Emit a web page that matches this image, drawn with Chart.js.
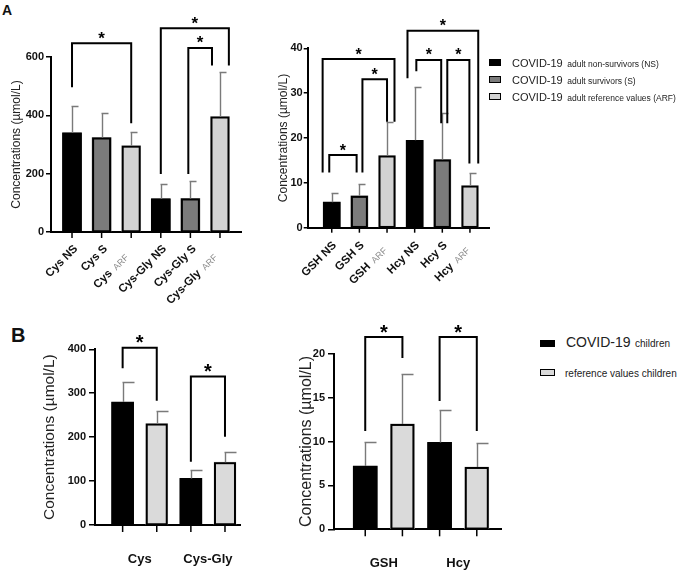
<!DOCTYPE html>
<html lang="en">
<head>
<meta charset="UTF-8">
<title>Thiols in COVID-19 adults and children</title>
<script src="https://cdn.jsdelivr.net/npm/chart.js@4"></script>
<style>
  body { margin: 0; background: #fff; font-family: "Liberation Sans", Arial, sans-serif; }
  #page { position: relative; width: 685px; height: 571px; overflow: hidden; }
  canvas { position: absolute; }
  .letter { position: absolute; font-weight: bold; color: #111; line-height: 1; }
  .sw { position: absolute; box-sizing: border-box; border: 1.5px solid #000; }
  .row { position: absolute; white-space: nowrap; color: #222; }
</style>
</head>
<body>
<div id="page">
  <div class="letter" style="left:2px; top:2.5px; font-size:14px;">A</div>
  <div class="letter" style="left:11px; top:325px; font-size:20px;">B</div>

  <canvas id="cys" width="250" height="320" style="left:0; top:0;"></canvas>
  <canvas id="gsh" width="230" height="320" style="left:262px; top:0;"></canvas>
  <canvas id="childCys" width="250" height="251" style="left:0; top:320px;"></canvas>
  <canvas id="childGsh" width="250" height="251" style="left:262px; top:320px;"></canvas>

  <!-- legend A -->
  <div class="sw" style="left:489px; top:58.5px; width:12px; height:7px; background:#000;"></div>
  <div class="row" style="left:512px; top:55px; line-height:14px;"><span style="font-size:11px;">COVID-19</span> <span style="font-size:8.5px;">adult non-survivors (NS)</span></div>
  <div class="sw" style="left:489px; top:75.5px; width:12px; height:7px; background:#7b7b7b;"></div>
  <div class="row" style="left:512px; top:72px; line-height:14px;"><span style="font-size:11px;">COVID-19</span> <span style="font-size:8.5px;">adult survivors (S)</span></div>
  <div class="sw" style="left:489px; top:92.5px; width:12px; height:7px; background:#d2d2d2;"></div>
  <div class="row" style="left:512px; top:89px; line-height:14px;"><span style="font-size:11px;">COVID-19</span> <span style="font-size:8.5px;">adult reference values (ARF)</span></div>

  <!-- legend B -->
  <div class="sw" style="left:540px; top:339.5px; width:15px; height:7px; background:#000;"></div>
  <div class="row" style="left:566px; top:334px; line-height:16px;"><span style="font-size:14px;">COVID-19</span> <span style="font-size:10px;">children</span></div>
  <div class="sw" style="left:540px; top:368.5px; width:15px; height:7px; background:#dadada;"></div>
  <div class="row" style="left:565px; top:364px; line-height:16px;"><span style="font-size:10px;">reference values children</span></div>
</div>

<script>
// ---- adults (panel A) ----
const adultGroups = ['NS', 'S', 'ARF'];

const cysAnalytes = ['Cys', 'Cys-Gly'];
const cysMean = [340, 324, 296, 114, 115, 396];
const cysSd = [92, 84, 48, 52, 60, 152];
const cysTicks = [0, 200, 400, 600];

const gshAnalytes = ['GSH', 'Hcy'];
const gshMean = [5.7, 7.1, 16.1, 19.5, 15.2, 9.4];
const gshSd = [2.1, 2.6, 7.4, 11.8, 10.3, 2.9];
const gshTicks = [0, 10, 20, 30, 40];

// ---- children (panel B) ----
const childCysAnalytes = ['Cys', 'Cys-Gly'];
const childCysCovidMean = [280, 106];
const childCysCovidSd = [46, 19];
const childCysRefMean = [231, 143];
const childCysRefSd = [29, 23];
const childCysTicks = [0, 100, 200, 300, 400];

const childGshAnalytes = ['GSH', 'Hcy'];
const childGshCovidMean = [7.2, 9.9];
const childGshCovidSd = [2.7, 3.7];
const childGshRefMean = [12.0, 7.1];
const childGshRefSd = [5.7, 2.7];
const childGshTicks = [0, 5, 10, 15, 20];

// significance: [bar a, bar b, bracket level, left leg end, right leg end]
const cysSig = [[0, 2, 647, 496, 373], [3, 5, 699, 199, 571], [4, 5, 631, 199, 571]];
const gshSig = [
  [0, 1, 16.2, 12.3, 12.3], [1, 2, 33.1, 12.3, 23.6], [0, 2, 37.6, 12.3, 23.6],
  [3, 4, 37.4, 34.9, 23.3], [4, 5, 37.4, 23.3, 14.3], [3, 5, 43.9, 33.3, 14.3]
];
const childCysSig = [[0, 1, 403.6, 356.7, 283], [2, 3, 337.8, 144, 201]];
const childGshSig = [[0, 1, 21.9, 11.2, 19.5], [2, 3, 21.9, 14.6, 11.2]];

const FONT = '"Liberation Sans", Arial, sans-serif';
const adultColors = ['#000000', '#7b7b7b', '#d2d2d2'];
const childColors = ['#000000', '#dadada'];

function extras(p) {
  return {
    id: 'extras',
    afterDatasetsDraw(chart) {
      const ctx = chart.ctx, ys = chart.scales.y, area = chart.chartArea;
      ctx.save();
      chart.data.datasets.forEach((ds, di) => {
        chart.getDatasetMeta(di).data.forEach((bar, i) => {
          const b = bar.getProps(['x', 'y', 'base', 'width'], true);
          // bar outline
          ctx.strokeStyle = '#000';
          ctx.lineWidth = 2;
          ctx.strokeRect(b.x - b.width / 2 + 1, b.y + 1, b.width - 2, b.base - b.y - 1);
          // x tick mark under the bar
          ctx.lineWidth = 1.5;
          ctx.beginPath();
          ctx.moveTo(b.x, area.bottom);
          ctx.lineTo(b.x, area.bottom + p.tickLen + 1);
          ctx.stroke();
          // error bar (SD, upper side only)
          const yTop = Math.round(ys.getPixelForValue(ds.data[i].y + ds.errors[i])) + 0.5;
          const x = Math.round(b.x) + 0.5;
          ctx.strokeStyle = '#7a7a7a';
          ctx.lineWidth = 1.4;
          ctx.beginPath();
          ctx.moveTo(x, b.y);
          ctx.lineTo(x, yTop);
          ctx.moveTo(x - 1, yTop);
          ctx.lineTo(x + p.capLen, yTop);
          ctx.stroke();
        });
      });
      ctx.restore();
    },
    afterDraw(chart) {
      const ctx = chart.ctx, xs = chart.scales.x, ys = chart.scales.y, area = chart.chartArea;
      ctx.save();
      // brackets
      ctx.strokeStyle = '#000';
      ctx.lineWidth = 2;
      ctx.lineJoin = 'miter';
      ctx.fillStyle = '#000';
      ctx.font = 'bold ' + p.starSize + 'px ' + FONT;
      ctx.textAlign = 'center';
      const m = ctx.measureText('*');
      p.sig.forEach((s, k) => {
        const sh = p.legShift ? p.legShift[k] : [0, 0];
        const x1 = xs.getPixelForValue(s[0] + sh[0]);
        const x2 = xs.getPixelForValue(s[1] + sh[1]);
        const yT = ys.getPixelForValue(s[2]);
        ctx.beginPath();
        ctx.moveTo(x1, ys.getPixelForValue(s[3]));
        ctx.lineTo(x1, yT);
        ctx.lineTo(x2, yT);
        ctx.lineTo(x2, ys.getPixelForValue(s[4]));
        ctx.stroke();
        const cy = yT - p.starGap;
        ctx.fillText('*', (x1 + x2) / 2, cy + (m.actualBoundingBoxAscent - m.actualBoundingBoxDescent) / 2);
      });
      // category labels
      if (p.rotated) {
        p.labels.forEach((lab, i) => {
          const x = xs.getPixelForValue(i);
          ctx.save();
          ctx.translate(x + p.labDx, area.bottom + p.labDy);
          ctx.rotate(-Math.PI / 4);
          ctx.textAlign = 'right';
          ctx.textBaseline = 'middle';
          let main = lab, suffix = '';
          if (lab.endsWith(' ARF')) { main = lab.slice(0, -4); suffix = 'ARF'; }
          let off = 0;
          if (suffix) {
            ctx.font = '9px ' + FONT;
            ctx.fillStyle = '#8c8c8c';
            ctx.fillText(suffix, -p.arfShift, 1);
            off = p.arfShift + ctx.measureText(suffix).width + 5;
          }
          ctx.font = 'bold 11.5px ' + FONT;
          ctx.fillStyle = '#111';
          ctx.fillText(main, -off, 0);
          ctx.restore();
        });
      } else {
        ctx.font = 'bold 13px ' + FONT;
        ctx.fillStyle = '#111';
        ctx.textAlign = 'center';
        ctx.textBaseline = 'middle';
        p.labels.forEach((lab, g) => {
          ctx.fillText(lab, xs.getPixelForValue(2 * g + 0.5), area.bottom + p.labDy);
        });
      }
      ctx.restore();
    }
  };
}

function makePanel(id, p) {
  const canvas = document.getElementById(id);
  const W = canvas.width, H = canvas.height;
  const yMax = p.yTicks[p.yTicks.length - 1];
  new Chart(canvas, {
    type: 'bar',
    data: { datasets: p.datasets },
    options: {
      responsive: false,
      animation: false,
      layout: { padding: { left: 0, top: p.area.top, right: W - p.area.right, bottom: 0 } },
      plugins: { legend: { display: false }, tooltip: { enabled: false } },
      scales: {
        x: {
          type: 'linear',
          min: p.xMin,
          max: p.xMax,
          offset: false,
          afterFit: s => { s.height = H - p.area.bottom; },
          ticks: { display: false },
          grid: { display: false },
          border: { display: true, color: '#000', width: 2 }
        },
        y: {
          min: 0,
          max: yMax,
          afterFit: s => { s.width = p.area.left; },
          afterBuildTicks: s => { s.ticks = p.yTicks.map(v => ({ value: v })); },
          ticks: { font: { family: FONT, size: 11, weight: 'bold' }, color: '#111', padding: p.tickPad },
          grid: { drawOnChartArea: false, drawTicks: true, tickLength: p.tickLen, color: '#000', lineWidth: 1.5 },
          border: { display: true, color: '#000', width: 2 },
          title: {
            display: true,
            text: 'Concentrations (µmol/L)',
            font: { family: FONT, size: p.titleSize },
            color: '#222',
            padding: { top: p.titlePad, bottom: 0 }
          }
        }
      }
    },
    plugins: [extras(p)]
  });
}

function adultDataset(mean, sd, thickness) {
  return [{
    data: mean.map((v, i) => ({ x: i, y: v })),
    errors: sd,
    backgroundColor: mean.map((v, i) => adultColors[i % adultGroups.length]),
    borderWidth: 0,
    barThickness: thickness,
    grouped: false
  }];
}

function childDatasets(covMean, covSd, refMean, refSd, thickness) {
  return [[covMean, covSd], [refMean, refSd]].map(([mean, sd], d) => ({
    data: mean.map((v, g) => ({ x: 2 * g + d, y: v })),
    errors: sd,
    backgroundColor: childColors[d],
    borderWidth: 0,
    barThickness: thickness,
    grouped: false
  }));
}

const adultLabels = a => a.flatMap(n => adultGroups.map(g => n + ' ' + g));

makePanel('cys', {
  datasets: adultDataset(cysMean, cysSd, 19),
  yTicks: cysTicks, sig: cysSig, legShift: [[0, 0], [0, 0.3], [-0.07, -0.27]],
  area: { left: 51, right: 241, top: 57, bottom: 232 },
  xMin: -0.71, xMax: 5.71, tickLen: 5, tickPad: 2,
  titleSize: 12, titlePad: 9, capLen: 6, starSize: 17, starGap: 8,
  rotated: true, labels: adultLabels(cysAnalytes), labDx: 4, labDy: 15, arfShift: 12
});

makePanel('gsh', {
  datasets: adultDataset(gshMean, gshSd, 17),
  yTicks: gshTicks, sig: gshSig,
  legShift: [[-0.09, -0.1], [0.11, 0], [-0.33, 0.27], [0.06, -0.04], [0.18, -0.02], [-0.26, 0.3]],
  area: { left: 45.7, right: 227.3, top: 48.3, bottom: 227.7 },
  xMin: -0.87, xMax: 5.70, tickLen: 4, tickPad: 1,
  titleSize: 12, titlePad: 14, capLen: 6, starSize: 16, starGap: 8,
  rotated: true, labels: adultLabels(gshAnalytes), labDx: 3, labDy: 16, arfShift: 7
});

makePanel('childCys', {
  datasets: childDatasets(childCysCovidMean, childCysCovidSd, childCysRefMean, childCysRefSd, 22),
  yTicks: childCysTicks, sig: childCysSig,
  area: { left: 95, right: 240, top: 29.3, bottom: 205 },
  xMin: -0.81, xMax: 3.44, tickLen: 6, tickPad: 3,
  titleSize: 15.5, titlePad: 40, capLen: 11, starSize: 20, starGap: 8.5,
  rotated: false, labels: childCysAnalytes, labDy: 34
});

makePanel('childGsh', {
  datasets: childDatasets(childGshCovidMean, childGshCovidSd, childGshRefMean, childGshRefSd, 24),
  yTicks: childGshTicks, sig: childGshSig,
  area: { left: 72, right: 239.7, top: 33.7, bottom: 209.3 },
  xMin: -0.84, xMax: 3.67, tickLen: 6, tickPad: 3,
  titleSize: 16, titlePad: 34.5, capLen: 11, starSize: 20, starGap: 8.5,
  rotated: false, labels: childGshAnalytes, labDy: 34
});
</script>
</body>
</html>
